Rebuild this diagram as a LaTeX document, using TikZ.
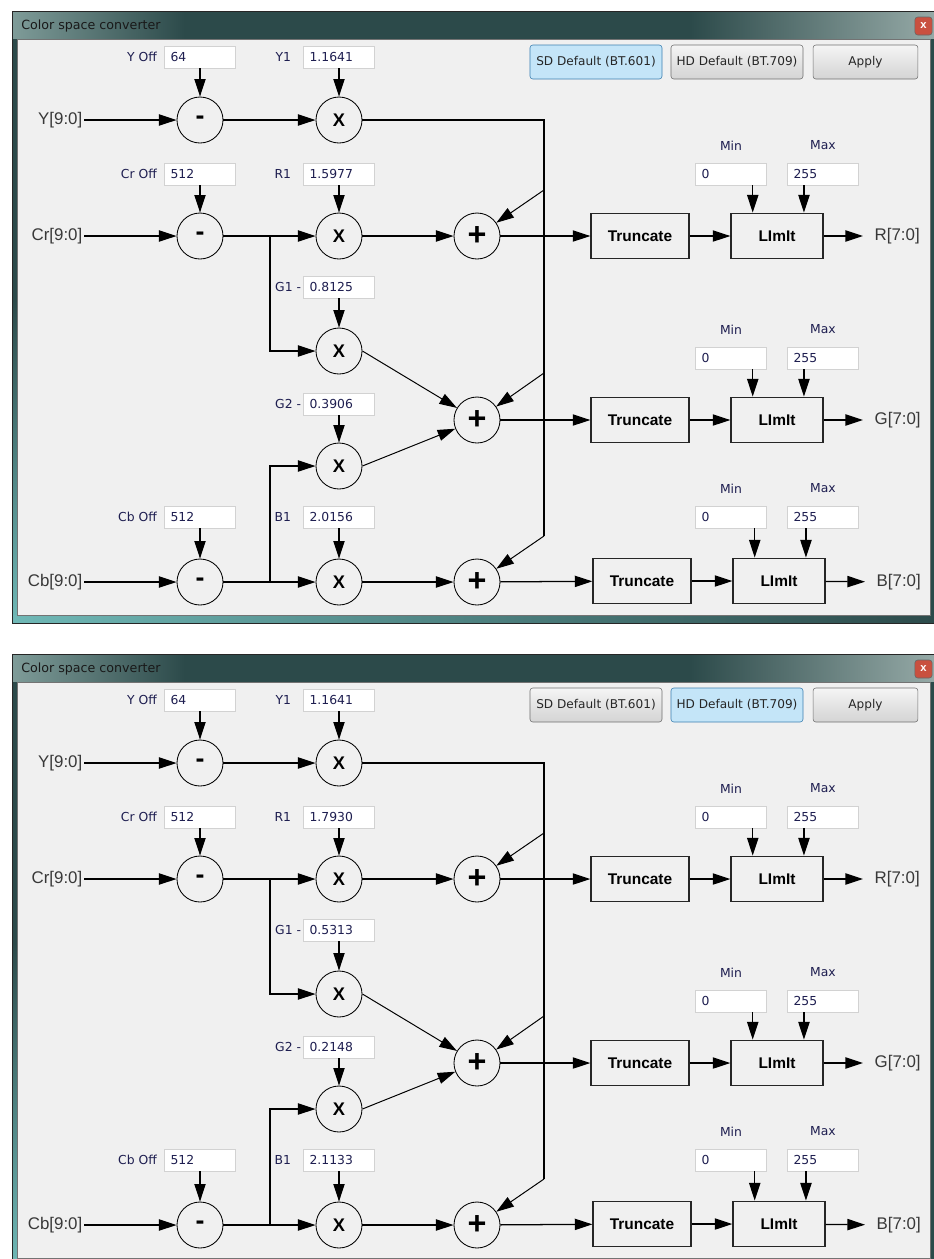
\documentclass[tikz,border=0pt]{standalone}
\usepackage{fontspec}
\setmainfont{Liberation Sans}
\newfontfamily\uifont{DejaVu Sans}
\usetikzlibrary{arrows.meta,positioning,calc}
\definecolor{cscbg}{HTML}{F0F0F0}
\definecolor{cscframe}{HTML}{2C4A4A}
\definecolor{cscglow}{HTML}{7E9B98}
\definecolor{csclight}{HTML}{98ACA9}
\definecolor{cscedge}{HTML}{6FB8B6}
\definecolor{cscfld}{HTML}{D2D2D2}
\definecolor{cscui}{HTML}{1E1E50}
\definecolor{cscsig}{HTML}{383838}
\definecolor{cscon}{HTML}{C4E5F8}
\definecolor{cscondraw}{HTML}{3C7FB1}
\definecolor{cscoff}{HTML}{707070}
\definecolor{cscclose}{HTML}{C9503F}

\begin{document}
\begin{tikzpicture}[
    x=0.025cm,y=-0.025cm,
    op/.style={circle,draw=black,line width=0.6pt,fill=cscbg,minimum size=1.15cm,inner sep=0pt,font=\fontsize{13}{13}\selectfont\bfseries},
    subop/.style={op,font=\fontsize{19}{19}\selectfont\bfseries},
    sumop/.style={op,font=\fontsize{23}{23}\selectfont\bfseries},
    fld/.style={draw=cscfld,fill=white,text width=1.47cm,inner xsep=0.15cm,inner ysep=0pt,minimum height=0.55cm,align=left,font=\uifont\fontsize{8.8}{10}\selectfont,text=cscui},
    lbl/.style={inner sep=0pt,font=\uifont\fontsize{8.8}{10}\selectfont,text=cscui},
    io/.style={inner sep=1pt,font=\fontsize{12}{14}\selectfont,text=cscsig},
    blk/.style={draw=black!85,line width=0.9pt,fill=cscbg,minimum height=1.14cm,font=\fontsize{11}{13}\selectfont\bfseries},
    btn/.style={rounded corners=2pt,minimum height=0.85cm,font=\uifont\fontsize{8.6}{10}\selectfont,text=black!85},
    btnoff/.style={draw=cscoff,top color=white!96!black,bottom color=black!17},
    btnon/.style={draw=cscondraw,fill=cscon},
    arr/.style={-{Triangle[length=12.5pt,width=8pt]},line width=0.9pt},
    diag/.style={arr,line width=0.7pt},
    wire/.style={line width=0.9pt}
  ]
  \fill[white] (0,0) rectangle (934,1259);
  \useasboundingbox (0,0) rectangle (934,1259);
  \clip (0,0) rectangle (934,1259);

  \foreach \w/\dy/\rone/\gone/\gtwo/\bone/\sdbtn/\hdbtn in
    {1/0/1.5977/0.8125/0.3906/2.0156/btnon/btnoff,
     2/643/1.7930/0.5313/0.2148/2.1133/btnoff/btnon}{
  \begin{scope}[shift={(0,\dy)}]
    % window
    \fill[cscframe] (12,11) rectangle (940,623);
    \shade[left color=cscglow,right color=cscframe] (13,12) rectangle (185,38);
    \shade[left color=cscframe,right color=csclight] (690,12) rectangle (940,38);
    \shade[top color=cscframe,bottom color=cscedge] (12,300) rectangle (17,623);
    \shade[left color=cscedge,right color=cscframe] (12,615) rectangle (940,623);
    \fill[cscbg,draw=black!55] (17,39) rectangle (930,615);
    \draw[black!85] (12,11) rectangle (940,623);
    \node[lbl,anchor=west,text=black!90,font=\uifont\fontsize{9}{11}\selectfont] (title\w) at (21,26) {Color space converter};
    \node[draw=black!60,fill=cscclose,rounded corners=2pt,minimum width=0.43cm,minimum height=0.45cm,inner sep=0pt,text=white,font=\fontsize{8}{8}\selectfont\bfseries] (close\w) at (923.5,26) {x};

    \node[btn,\sdbtn,minimum width=3.3cm] (sd\w) at (596,62) {SD Default (BT.601)};
    \node[btn,\hdbtn,minimum width=3.3cm] (hd\w) at (737,62) {HD Default (BT.709)};
    \node[btn,btnoff,minimum width=2.62cm] (apply\w) at (865.5,62) {Apply};

    % inputs and operators
    \node[io,anchor=east] (yin\w) at (84,120) {Y[9:0]};
    \node[io,anchor=east] (crin\w) at (84,236) {Cr[9:0]};
    \node[io,anchor=east] (cbin\w) at (84,582) {Cb[9:0]};
    \node[subop] (ysub\w) at (200,120) {-};
    \node[subop] (crsub\w) at (200,236) {-};
    \node[subop] (cbsub\w) at (200,582) {-};
    \node[op] (ymul\w) at (339,120) {X};
    \node[op] (rmul\w) at (339,236) {X};
    \node[op] (g1mul\w) at (339,351) {X};
    \node[op] (g2mul\w) at (339,466) {X};
    \node[op] (bmul\w) at (339,582) {X};
    \node[sumop] (rsum\w) at (477,236) {+};
    \node[sumop] (gsum\w) at (477,420) {+};
    \node[sumop] (bsum\w) at (477,582) {+};

    \node[fld] (yoff\w) at (200,57) {64};
    \node[fld] (yone\w) at (339,57) {1.1641};
    \node[fld] (croff\w) at (200,174) {512};
    \node[fld] (rone\w) at (339,174) {\rone};
    \node[fld] (gone\w) at (339,287) {\gone};
    \node[fld] (gtwo\w) at (339,404) {\gtwo};
    \node[fld] (cboff\w) at (200,517) {512};
    \node[fld] (bone\w) at (339,517) {\bone};
    \node[lbl,left=0.18cm of yoff\w] (yoffl\w) {Y Off};
    \node[lbl,left=0.3cm of yone\w] (yonel\w) {Y1};
    \node[lbl,left=0.18cm of croff\w] (croffl\w) {Cr Off};
    \node[lbl,left=0.3cm of rone\w] (ronel\w) {R1};
    \node[lbl,left=0.05cm of gone\w] (gonel\w) {G1 -};
    \node[lbl,left=0.05cm of gtwo\w] (gtwol\w) {G2 -};
    \node[lbl,left=0.18cm of cboff\w] (cboffl\w) {Cb Off};
    \node[lbl,left=0.3cm of bone\w] (bonel\w) {B1};

    % truncate / limit
    \node[blk,minimum width=2.45cm] (rtr\w) at (640,236) {Truncate};
    \node[blk,minimum width=2.3cm] (rlim\w) at (777,236) {LImIt};
    \node[blk,minimum width=2.45cm] (gtr\w) at (640,420) {Truncate};
    \node[blk,minimum width=2.3cm] (glim\w) at (777,420) {LImIt};
    \node[blk,minimum width=2.45cm] (btr\w) at (642,581) {Truncate};
    \node[blk,minimum width=2.3cm] (blim\w) at (779,581) {LImIt};
    \node[fld] (rmin\w) at (731,174) {0};
    \node[fld] (rmax\w) at (823,174) {255};
    \node[fld] (gmin\w) at (731,358) {0};
    \node[fld] (gmax\w) at (823,358) {255};
    \node[fld] (bmin\w) at (731,517) {0};
    \node[fld] (bmax\w) at (823,517) {255};
    \foreach \c in {r,g,b}{
      \node[lbl,above=0.31cm of \c min\w] (\c minl\w) {Min};
      \node[lbl,above=0.31cm of \c max\w] (\c maxl\w) {Max};
      \draw[arr] (\c min\w.south -| \c lim\w.136) -- (\c lim\w.136);
      \draw[arr] (\c max\w.south -| \c lim\w.41) -- (\c lim\w.41);
    }
    \node[io,anchor=west] (rout\w) at (873,236) {R[7:0]};
    \node[io,anchor=west] (gout\w) at (873,420) {G[7:0]};
    \node[io,anchor=west] (bout\w) at (875,582) {B[7:0]};

    % connectors
    \foreach \a/\b in {yin/ysub,ysub/ymul,crin/crsub,crsub/rmul,cbin/cbsub,cbsub/bmul,
        rmul/rsum,bmul/bsum,rsum/rtr,gsum/gtr,bsum/btr,rtr/rlim,gtr/glim,btr/blim,
        yoff/ysub,yone/ymul,croff/crsub,rone/rmul,gone/g1mul,gtwo/g2mul,cboff/cbsub,bone/bmul}
      \draw[arr] (\a\w) -- (\b\w);
    \foreach \a/\b in {rlim/rout,glim/gout,blim/bout}
      \draw[arr,shorten >=0.25cm] (\a\w) -- (\b\w);
    \coordinate (crj\w) at (270,236);
    \coordinate (cbj\w) at (270,582);
    \draw[arr] (crj\w) |- (g1mul\w);
    \draw[arr] (cbj\w) |- (g2mul\w);
    \draw[diag] (g1mul\w.east) -- (gsum\w);
    \draw[diag] (g2mul\w.east) -- (gsum\w);
    \coordinate (yj\w) at (544,120);
    \coordinate (yjr\w) at (544,190);
    \coordinate (yjg\w) at (544,373);
    \coordinate (yjb\w) at (544,536);
    \draw[wire] (ymul\w) -- (yj\w) -- (yjb\w);
    \foreach \s in {r,g,b}
      \draw[diag] (yj\s\w) -- (\s sum\w);
  \end{scope}
  }
\end{tikzpicture}
\end{document}
